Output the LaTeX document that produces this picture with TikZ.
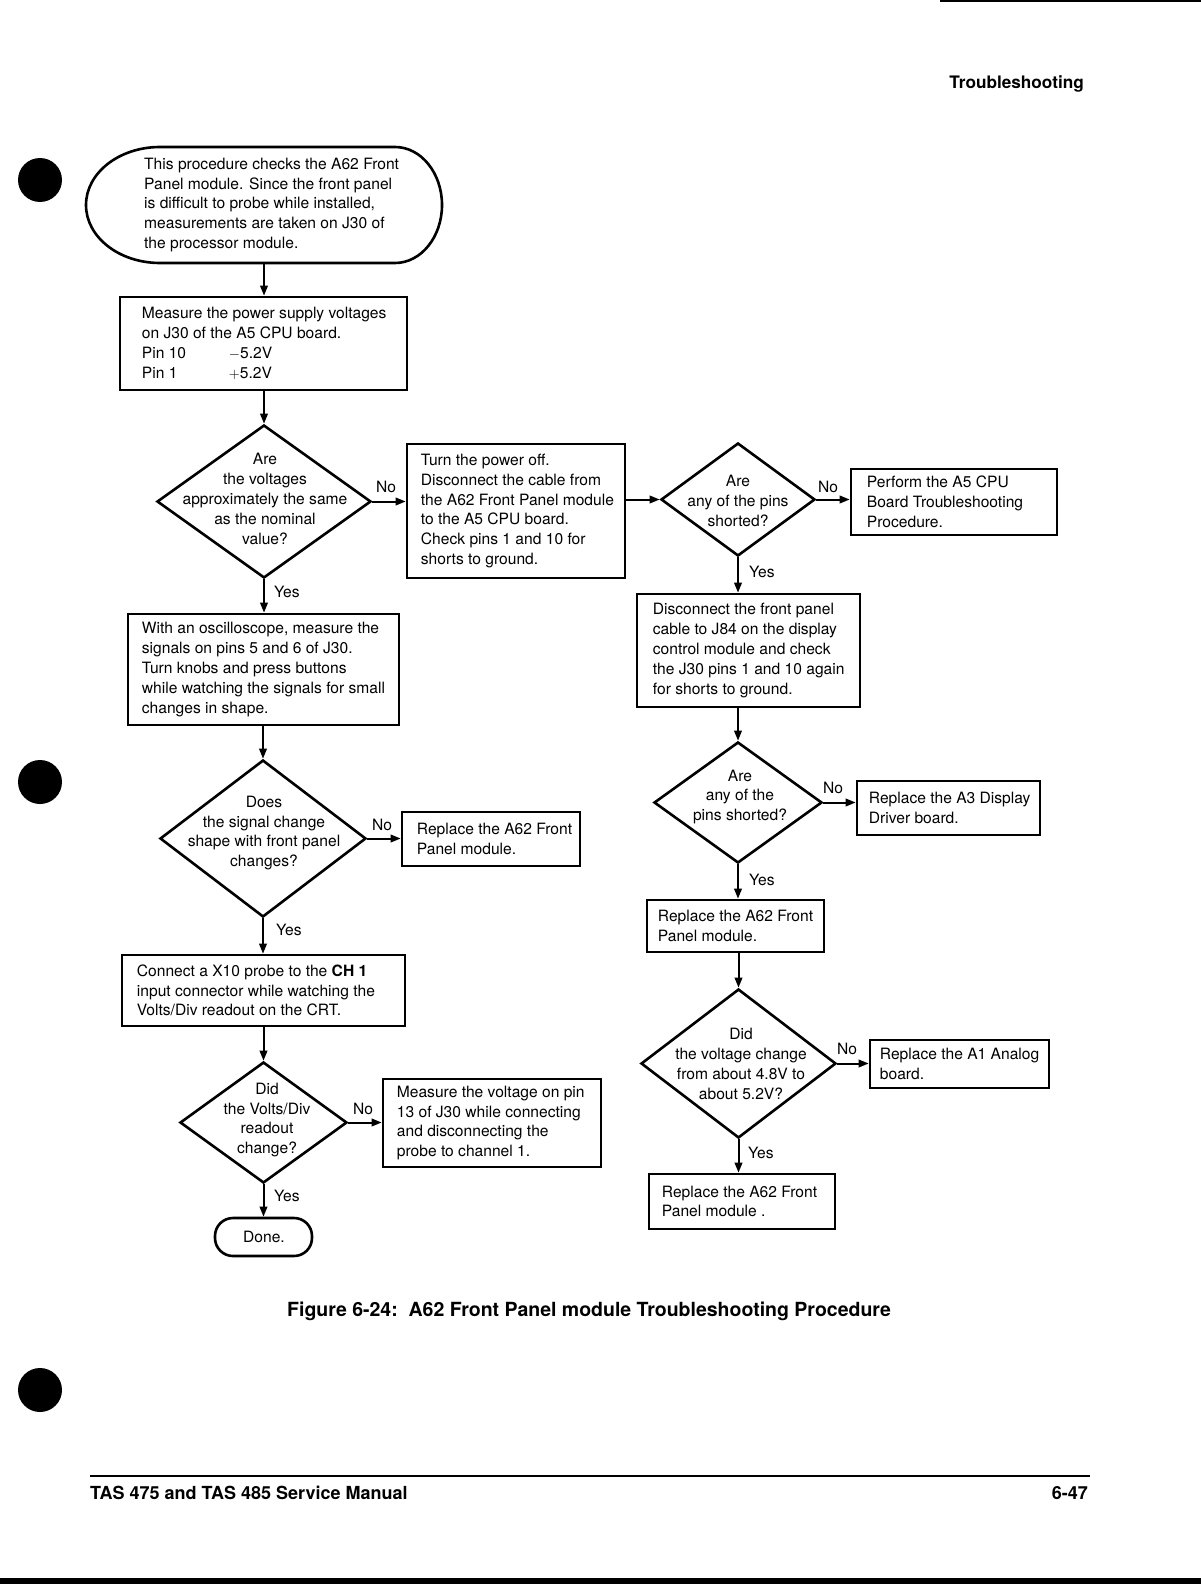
\documentclass[tikz,border=0pt]{standalone}
\usepackage{fontspec}
\setmainfont{TeX Gyre Heros}
\usetikzlibrary{shapes.geometric,arrows.meta}
\begin{document}
\begin{tikzpicture}[x=1pt,y=-1pt,
  bx/.style={draw, rectangle, line width=2.6pt, inner sep=0pt},
  dia/.style={draw, diamond, line width=2.6pt, inner sep=0pt},
  term/.style={draw, rectangle, rounded corners=18pt, line width=2.6pt, inner sep=0pt},
  arr/.style={line width=2pt, -{Triangle[length=10pt,width=7.5pt]}},
  txt/.style={font=\fontsize{15.6}{19.8}\selectfont, align=left, inner sep=0pt, anchor=west},
  ctxt/.style={font=\fontsize{15.6}{19.8}\selectfont, align=center, inner sep=0pt},
  lbl/.style={font=\fontsize{15.6}{19.8}\selectfont, inner sep=0pt},
  dot/.style={circle, fill=black, minimum size=44pt, inner sep=0pt},
  bigtxt/.style={font=\bfseries\fontsize{18}{22}\selectfont, inner sep=0pt}
]
\useasboundingbox (0,0) rectangle (1201,1584);

% page decoration
\draw[line width=2pt] (940,1) -- (1201,1);
\node[bigtxt, font=\bfseries\fontsize{17.2}{20}\selectfont, anchor=base east] (hdr) at (1084,89) {Troubleshooting};
\node[dot] (dot1) at (40,180) {};
\node[dot] (dot2) at (40,782) {};
\node[dot] (dot3) at (40,1390) {};

% start terminal
\node[minimum width=356pt, minimum height=116pt, inner sep=0pt, outer sep=0pt] (st) at (264,205) {};
\draw[line width=2.6pt] (160,147) -- (395,147)
  .. controls (421,147) and (442,173) .. (442,205)
  .. controls (442,237) and (421,263) .. (395,263)
  -- (160,263)
  .. controls (119,263) and (86,237) .. (86,205)
  .. controls (86,173) and (119,147) .. cycle;
\node[txt] (stt) at (144,205) {This procedure checks the A62 Front\\Panel module. Since the front panel\\is difficult to probe while installed,\\measurements are taken on J30 of\\the processor module.};

% left column
\node[bx, minimum width=287pt, minimum height=93pt] (b2) at (263.5,343.5) {};
\node[txt] (b2t) at ([xshift=23pt]b2.west) {Measure the power supply voltages\\on J30 of the A5 CPU board.\\\makebox[87pt][l]{Pin 10}$-$5.2V\\\makebox[87pt][l]{Pin 1}$+$5.2V};

\node[dia, minimum width=214pt, minimum height=153pt] (d1) at (264,501.5) {};
\node[ctxt] (d1t) at (265,499) {Are\\the voltages\\approximately the same\\as the nominal\\value?};

\node[bx, minimum width=218pt, minimum height=134pt] (b3) at (516,511) {};
\node[txt] (b3t) at ([xshift=15pt]b3.west) {Turn the power off.\\Disconnect the cable from\\the A62 Front Panel module\\to the A5 CPU board.\\Check pins 1 and 10 for\\shorts to ground.};

\node[bx, minimum width=271pt, minimum height=111pt] (b10) at (263.5,669.5) {};
\node[txt] (b10t) at ([xshift=15pt]b10.west) {With an oscilloscope, measure the\\signals on pins 5 and 6 of J30.\\Turn knobs and press buttons\\while watching the signals for small\\changes in shape.};

\node[dia, minimum width=206pt, minimum height=157pt] (d5) at (263,838.5) {};
\node[ctxt] (d5t) at (264,833) {Does\\the signal change\\shape with front panel\\changes?};

\node[bx, minimum width=178pt, minimum height=54pt] (b11) at (491,839) {};
\node[txt] (b11t) at ([xshift=16pt]b11.west) {Replace the A62 Front\\Panel module.};

\node[bx, minimum width=283pt, minimum height=71pt] (b12) at (263.5,990.5) {};
\node[txt] (b12t) at ([xshift=16pt]b12.west) {Connect a X10 probe to the \textbf{CH 1}\\input connector while watching the\\Volts/Div readout on the CRT.};

\node[dia, minimum width=167pt, minimum height=121pt] (d6) at (263.5,1122.5) {};
\node[ctxt] (d6t) at (267,1120) {Did\\the Volts/Div\\readout\\change?};

\node[bx, minimum width=218pt, minimum height=88pt] (b13) at (492,1123) {};
\node[txt] (b13t) at ([xshift=15pt]b13.west) {Measure the voltage on pin\\13 of J30 while connecting\\and disconnecting the\\probe to channel 1.};

\node[term, minimum width=97pt, minimum height=38pt] (done) at (263.5,1237) {};
\node[ctxt] (donet) at (264,1237) {Done.};

% right column
\node[dia, minimum width=154pt, minimum height=113pt] (d2) at (738,499.5) {};
\node[ctxt] (d2t) at (738,501) {Are\\any of the pins\\shorted?};

\node[bx, minimum width=206pt, minimum height=66pt] (b4) at (954,502) {};
\node[txt] (b4t) at ([xshift=17pt]b4.west) {Perform the A5 CPU\\Board Troubleshooting\\Procedure.};

\node[bx, minimum width=223pt, minimum height=113pt] (b5) at (748.5,650.5) {};
\node[txt] (b5t) at ([xshift=17pt]b5.west) {Disconnect the front panel\\cable to J84 on the display\\control module and check\\the J30 pins 1 and 10 again\\for shorts to ground.};

\node[dia, minimum width=168pt, minimum height=121pt] (d3) at (738,802.5) {};
\node[ctxt] (d3t) at (740,797) {Are\\any of the\\pins shorted?};

\node[bx, minimum width=183pt, minimum height=54pt] (b6) at (948.5,808) {};
\node[txt] (b6t) at ([xshift=13pt]b6.west) {Replace the A3 Display\\Driver board.};

\node[bx, minimum width=177pt, minimum height=52pt] (b7) at (735.5,926) {};
\node[txt] (b7t) at ([xshift=12pt]b7.west) {Replace the A62 Front\\Panel module.};

\node[dia, minimum width=195pt, minimum height=149pt] (d4) at (738.5,1063.5) {};
\node[ctxt] (d4t) at (741,1064) {Did\\the voltage change\\from about 4.8V to\\about 5.2V?};

\node[bx, minimum width=179pt, minimum height=48pt] (b9) at (959.5,1064) {};
\node[txt] (b9t) at ([xshift=11pt]b9.west) {Replace the A1 Analog\\board.};

\node[bx, minimum width=186pt, minimum height=55pt] (b8) at (742,1201.5) {};
\node[txt] (b8t) at ([xshift=14pt]b8.west) {Replace the A62 Front\\Panel module .};

% connectors
\draw[arr] (st.south) -- (st.south |- b2.north);
\draw[arr] (d1.north |- b2.south) -- (d1.north);
\draw[arr] (d1.east) -- (d1.east -| b3.west);
\draw[arr] (b3.east |- d2.west) -- (d2.west);
\draw[arr] (d2.east) -- (d2.east -| b4.west);
\draw[arr] (d2.south) -- (d2.south |- b5.north);
\draw[arr] (d3.north |- b5.south) -- (d3.north);
\draw[arr] (d3.east) -- (d3.east -| b6.west);
\draw[arr] (d3.south) -- (d3.south |- b7.north);
\draw[arr] (d4.north |- b7.south) -- (d4.north);
\draw[arr] (d4.east) -- (d4.east -| b9.west);
\draw[arr] (d4.south) -- (d4.south |- b8.north);
\draw[arr] (d1.south) -- (d1.south |- b10.north);
\draw[arr] (d5.north |- b10.south) -- (d5.north);
\draw[arr] (d5.east) -- (d5.east -| b11.west);
\draw[arr] (d5.south) -- (d5.south |- b12.north);
\draw[arr] (d6.north |- b12.south) -- (d6.north);
\draw[arr] (d6.east) -- (d6.east -| b13.west);
\draw[arr] (d6.south) -- (d6.south |- done.north);

% labels
\node[lbl] (n1) at (386,487) {No};
\node[lbl] (n2) at (828,487) {No};
\node[lbl] (n3) at (833,788) {No};
\node[lbl] (n4) at (847,1049) {No};
\node[lbl] (n5) at (382,825) {No};
\node[lbl] (n6) at (363,1109) {No};
\node[lbl, anchor=west] (y1) at (274,592) {Yes};
\node[lbl, anchor=west] (y2) at (749,572) {Yes};
\node[lbl, anchor=west] (y3) at (749,880) {Yes};
\node[lbl, anchor=west] (y4) at (748,1153) {Yes};
\node[lbl, anchor=west] (y5) at (276,930) {Yes};
\node[lbl, anchor=west] (y6) at (274,1196) {Yes};

% caption and footer
\node[bigtxt, font=\bfseries\fontsize{19.5}{23}\selectfont, anchor=base west] (cap) at (287,1316) {Figure 6-24:\ \ A62 Front Panel module Troubleshooting Procedure};
\draw[line width=2pt] (90,1476) -- (1090,1476);
\node[bigtxt, anchor=base west] (ftl) at (90,1499.5) {TAS 475 and TAS 485 Service Manual};
\node[bigtxt, anchor=base east] (ftr) at (1088,1499.5) {6-47};
\fill (0,1578) rectangle (1201,1584);
\end{tikzpicture}
\end{document}
